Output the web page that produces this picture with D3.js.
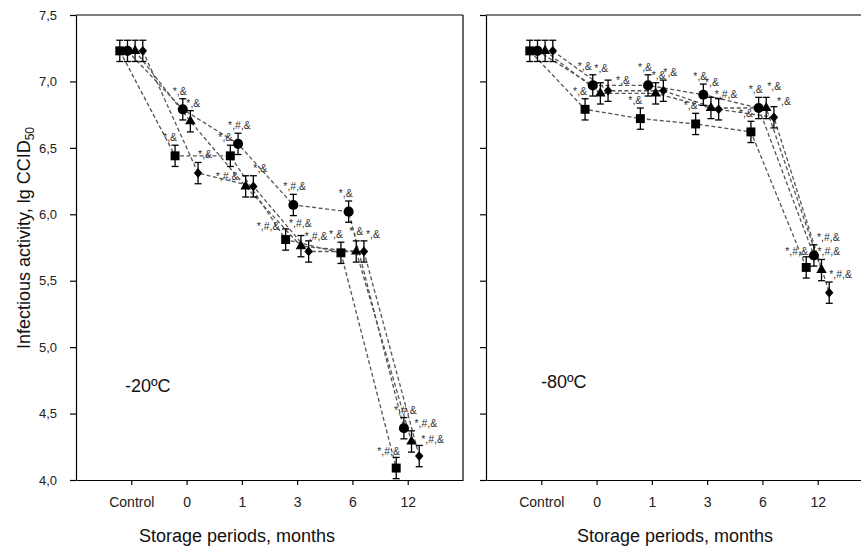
<!DOCTYPE html>
<html>
<head>
<meta charset="utf-8">
<script src="https://cdnjs.cloudflare.com/ajax/libs/d3/7.8.5/d3.min.js"></script>
<style>
    body { margin: 0; background: #fff; }
    svg text { font-family: Arial, "Liberation Sans", sans-serif; }
</style>
</head>
<body>
<svg id="chart" width="861" height="546"></svg>
<script>
// Data
const periods = ["Control", "0", "1", "3", "6", "12"]
const yTicks = [4.0, 4.5, 5.0, 5.5, 6.0, 6.5, 7.0, 7.5]

// -20 C panel (square, circle, triangle, diamond)
const squareM20 = [7.23, 6.44, 6.44, 5.81, 5.71, 4.09]
const circleM20 = [7.23, 6.79, 6.53, 6.07, 6.02, 4.39]
const triangleM20 = [7.23, 6.70, 6.21, 5.76, 5.72, 4.29]
const diamondM20 = [7.23, 6.31, 6.21, 5.72, 5.72, 4.18]

// -80 C panel
const squareM80 = [7.23, 6.79, 6.72, 6.68, 6.62, 5.60]
const circleM80 = [7.23, 6.97, 6.97, 6.90, 6.80, 5.69]
const triangleM80 = [7.23, 6.91, 6.91, 6.80, 6.80, 5.58]
const diamondM80 = [7.23, 6.93, 6.93, 6.79, 6.73, 5.41]

// error bar half-widths (same for every point)
const errorM20 = [0.08, 0.08, 0.08, 0.08, 0.08, 0.08]
const errorM80 = [0.08, 0.08, 0.08, 0.08, 0.08, 0.08]

// significance marks
const marksM20 = [
    ["", "*,&", "*,&", "*,#,&", "*,&", "*,#,&"],
    ["", "*,&", "*,#,&", "*,#,&", "*,&", "*,#,&"],
    ["", "*,&", "*,#,&", "*,#,&", "*,&", "*,#,&"],
    ["", "*,&", "*,&", "*,#,&", "*,&", "*,#,&"],
]
const marksM80 = [
    ["", "*,&", "*,&", "*,&", "*,&", "*,#,&"],
    ["", "*,&", "*,&", "*,&", "*,&", "*,#,&"],
    ["", "*,&", "*,&", "*,&", "*,&", "*,#,&"],
    ["", "*,&", "*,&", "*,#,&", "*,&", "*,#,&"],
]

// Layout
const CONFIG = {
    top: 15,
    bottom: 480,
    panelWidth: 387,
    seriesOffset: [-11.5, -3.8, 3.8, 11.5],
    markDx: [-12, -10, -4, 0],
    lineColor: "#555",
    markColor: "#333",
}

// marks that sit away from the default spot: [panel, series, period, dx, dy]
const markNudge = [
    [0, 0, 3, -29, 5],
    [0, 2, 2, -30, 8],
    [0, 0, 5, -19, 2],
    [0, 2, 3, -12, -5],
    [0, 3, 3, -4, 3],
    [0, 3, 0, -7, 0],
    [0, 2, 4, -7, -2],
    [0, 3, 4, 2, 1],
    [0, 2, 5, 3, 0],
    [0, 3, 5, 2, 2],
    [1, 0, 5, -21, 2],
    [1, 1, 5, 3, 0],
    [1, 2, 3, -6, -7],
    [1, 3, 3, -4, 3],
    [1, 1, 0, -13, 0],
    [1, 1, 1, -15, -1],
    [1, 2, 1, -6, -7],
    [1, 3, 0, 4, 2],
    [1, 3, 1, 8, 8],
    [1, 3, 4, 3, 2],
    [1, 2, 4, 1, -3],
]

const panels = [
    { temp: "-20ºC", series: [squareM20, circleM20, triangleM20, diamondM20], err: errorM20, marks: marksM20,
      left: 76, titleX: 237, tempX: 125, tempY: 392, yLabels: true },
    { temp: "-80ºC", series: [squareM80, circleM80, triangleM80, diamondM80], err: errorM80, marks: marksM80,
      left: 486, titleX: 675, tempX: 541, tempY: 388, yLabels: false },
]

// rhombus marker, a bit wider than d3's diamond
const rhombus = {
    draw(ctx, size) {
        const r = Math.sqrt(size) / 2
        ctx.moveTo(0, -r * 1.15)
        ctx.lineTo(r, 0)
        ctx.lineTo(0, r * 1.15)
        ctx.lineTo(-r, 0)
        ctx.closePath()
    }
}
const symbols = [
    d3.symbol(d3.symbolSquare, 80),
    d3.symbol(d3.symbolCircle, 80),
    d3.symbol(d3.symbolTriangle, 48),
    d3.symbol(rhombus, 72),
]

const svg = d3.select("#chart")

const y = d3.scaleLinear().domain([4, 7.5]).range([CONFIG.bottom, CONFIG.top])
const fmt = d => d3.format(".1f")(d).replace(".", ",")

panels.forEach((p, pi) => {
    const x = d3.scalePoint()
        .domain(periods)
        .range([p.left, p.left + CONFIG.panelWidth])
        .padding(1)

    const g = svg.append("g")

    // frame lines
    g.append("line")
        .attr("x1", p.left).attr("x2", p.left + CONFIG.panelWidth)
        .attr("y1", CONFIG.top).attr("y2", CONFIG.top)
        .attr("stroke", "#000").attr("stroke-width", 1.2)
    g.append("line")
        .attr("x1", p.left + CONFIG.panelWidth).attr("x2", p.left + CONFIG.panelWidth)
        .attr("y1", CONFIG.top).attr("y2", CONFIG.bottom)
        .attr("stroke", "#000").attr("stroke-width", 1.2)

    const yAxis = g.append("g")
        .attr("transform", `translate(${p.left},0)`)
        .call(d3.axisLeft(y).tickValues(yTicks).tickSize(6).tickSizeOuter(0).tickPadding(13)
            .tickFormat(p.yLabels ? fmt : ""))
    yAxis.selectAll("text").attr("font-size", "13px").attr("fill", "#222").attr("font-family", null)

    const xAxis = g.append("g")
        .attr("transform", `translate(0,${CONFIG.bottom})`)
        .call(d3.axisBottom(x).tickSize(5).tickSizeOuter(0).tickPadding(12))
    xAxis.selectAll("text").attr("font-size", "14px").attr("fill", "#222").attr("font-family", null)
    g.selectAll(".domain, .tick line").attr("stroke", "#000").attr("stroke-width", 1.2)

    const px = (si, i) => x(periods[i]) + CONFIG.seriesOffset[si]

    const line = d3.line()
        .x(d => d.x)
        .y(d => y(d.v))

    // dashed connectors
    p.series.forEach((vals, si) => {
        g.append("path")
            .datum(vals.map((v, i) => ({ x: px(si, i), v })))
            .attr("d", line)
            .attr("fill", "none")
            .attr("stroke", CONFIG.lineColor)
            .attr("stroke-width", 1.3)
            .attr("stroke-dasharray", "4,2.5")
    })

    // error bars, markers, marks
    p.series.forEach((vals, si) => {
        const pts = vals.map((v, i) => ({ x: px(si, i), v, e: p.err[i], i, mark: p.marks[si][i] }))
        const eb = g.append("g").selectAll("g").data(pts).enter().append("g")
        eb.append("line")
            .attr("x1", d => d.x).attr("x2", d => d.x)
            .attr("y1", d => y(d.v + d.e)).attr("y2", d => y(d.v - d.e))
        eb.append("line")
            .attr("x1", d => d.x - 3.5).attr("x2", d => d.x + 3.5)
            .attr("y1", d => y(d.v + d.e)).attr("y2", d => y(d.v + d.e))
        eb.append("line")
            .attr("x1", d => d.x - 3.5).attr("x2", d => d.x + 3.5)
            .attr("y1", d => y(d.v - d.e)).attr("y2", d => y(d.v - d.e))
        eb.selectAll("line").attr("stroke", "#000").attr("stroke-width", 1.3)

        g.append("g").selectAll("path").data(pts).enter().append("path")
            .attr("d", symbols[si])
            .attr("transform", d => `translate(${d.x},${y(d.v)})`)
            .attr("fill", "#000")

        const nudge = d => markNudge.find(m => m[0] === pi && m[1] === si && m[2] === d.i)
        g.append("g").selectAll("text").data(pts.filter(d => d.mark)).enter().append("text")
            .text(d => d.mark)
            .attr("x", d => d.x + (nudge(d) ? nudge(d)[3] : CONFIG.markDx[si]))
            .attr("y", d => y(d.v + d.e) - 4 + (nudge(d) ? nudge(d)[4] : 0))
            .attr("font-size", "10.5px")
            .attr("fill", CONFIG.markColor)
    })

    // temperature label
    g.append("text")
        .text(p.temp)
        .attr("x", p.tempX).attr("y", p.tempY)
        .attr("font-size", "18px").attr("fill", "#111")

    // x title
    g.append("text")
        .text("Storage periods, months")
        .attr("x", p.titleX).attr("y", 542)
        .attr("text-anchor", "middle")
        .attr("font-size", "18px").attr("fill", "#111")
})

// y title with subscript
const yTitle = svg.append("text")
    .attr("transform", "translate(30,238) rotate(-90)")
    .attr("text-anchor", "middle")
    .attr("font-size", "18px").attr("fill", "#111")
yTitle.append("tspan").text("Infectious activity, lg CCID")
yTitle.append("tspan").text("50").attr("font-size", "12px").attr("dy", 4)
</script>
</body>
</html>
